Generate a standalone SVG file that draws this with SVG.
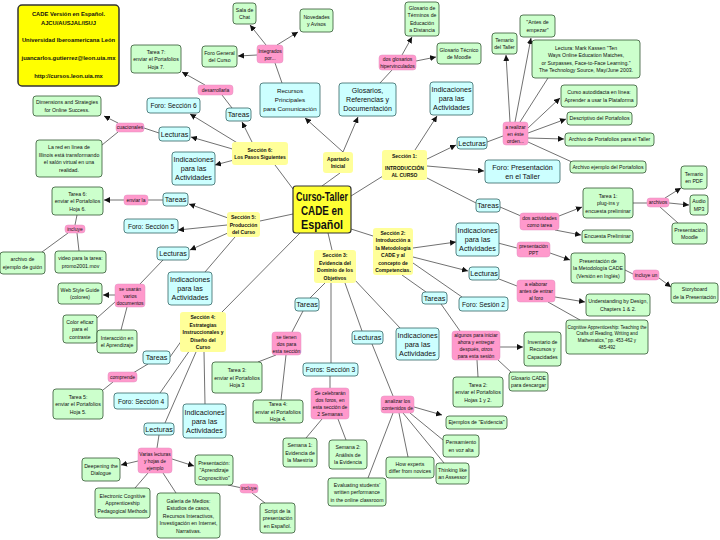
<svg xmlns="http://www.w3.org/2000/svg" width="720" height="540" viewBox="0 0 720 540">
<defs>
<marker id="ar" viewBox="0 0 10 10" refX="10" refY="5" markerWidth="6" markerHeight="6" orient="auto" markerUnits="userSpaceOnUse"><path d="M0,0 L10,5 L0,10 z" fill="#111"/></marker>
<style>
.g rect{fill:#ccffcc;stroke:#335533;stroke-width:.8}
.c rect{fill:#ccffff;stroke:#336666;stroke-width:.8}
.p rect{fill:#ff99cc;stroke:#e090c0;stroke-width:.5}
.y rect{fill:#ffff99;stroke:none}
text{font-family:"Liberation Sans",Arial,sans-serif;text-anchor:middle;fill:#111}
.g text{font-size:5.2px}
.g text.sm{font-size:4.6px}
.p text{font-size:5px}
.c text{font-size:7.2px}
.c text.f{font-size:6.6px}
.y text{font-size:5px;font-weight:bold}
#conn line{stroke:#333;stroke-width:.7;fill:none}
#conn .a{marker-end:url(#ar)}
</style>
</defs>
<rect width="720" height="540" fill="#fff"/>
<g id="conn">
<line x1="340" y1="173" x2="322" y2="186"/>
<line x1="351" y1="196" x2="383" y2="176"/>
<line x1="293" y1="189" x2="275" y2="165"/>
<line x1="293" y1="214" x2="260" y2="221"/>
<line x1="300" y1="233" x2="222" y2="312"/>
<line x1="328" y1="233" x2="332" y2="250"/>
<line x1="351" y1="229" x2="373" y2="236"/>
<line class="a" x1="343" y1="152" x2="305" y2="118"/>
<line class="a" x1="343" y1="152" x2="358" y2="117"/>
<line x1="282" y1="83" x2="275" y2="63"/>
<line class="a" x1="266" y1="45" x2="250" y2="25"/>
<line class="a" x1="277" y1="45" x2="298" y2="32"/>
<line class="a" x1="257" y1="55" x2="238" y2="56"/>
<line x1="380" y1="83" x2="392" y2="70"/>
<line class="a" x1="402" y1="55" x2="412" y2="37"/>
<line class="a" x1="416" y1="61" x2="436" y2="57"/>
<line class="a" x1="415" y1="150" x2="437" y2="116"/>
<line class="a" x1="425" y1="160" x2="456" y2="145"/>
<line class="a" x1="427" y1="166" x2="484" y2="171"/>
<line x1="427" y1="178" x2="476" y2="203"/>
<line x1="487" y1="142" x2="503" y2="136"/>
<line class="a" x1="510" y1="122" x2="506" y2="55"/>
<line class="a" x1="515" y1="122" x2="531" y2="38"/>
<line x1="520" y1="122" x2="548" y2="78"/>
<line class="a" x1="528" y1="128" x2="560" y2="98"/>
<line class="a" x1="528" y1="133" x2="566" y2="119"/>
<line class="a" x1="528" y1="138" x2="564" y2="139"/>
<line x1="528" y1="142" x2="572" y2="162"/>
<line x1="500" y1="207" x2="521" y2="216"/>
<line class="a" x1="559" y1="216" x2="582" y2="207"/>
<line class="a" x1="555" y1="230" x2="581" y2="235"/>
<line x1="633" y1="203" x2="647" y2="203"/>
<line class="a" x1="665" y1="198" x2="681" y2="188"/>
<line class="a" x1="669" y1="203" x2="689" y2="205"/>
<line x1="660" y1="207" x2="678" y2="223"/>
<line class="a" x1="413" y1="248" x2="456" y2="242"/>
<line class="a" x1="413" y1="257" x2="468" y2="271"/>
<line x1="413" y1="263" x2="462" y2="297"/>
<line x1="402" y1="275" x2="426" y2="292"/>
<line x1="498" y1="243" x2="517" y2="248"/>
<line class="a" x1="550" y1="253" x2="570" y2="260"/>
<line x1="625" y1="270" x2="633" y2="274"/>
<line class="a" x1="659" y1="278" x2="671" y2="287"/>
<line x1="499" y1="279" x2="517" y2="286"/>
<line class="a" x1="555" y1="297" x2="585" y2="302"/>
<line x1="548" y1="302" x2="580" y2="320"/>
<line x1="441" y1="304" x2="460" y2="331"/>
<line class="a" x1="500" y1="347" x2="523" y2="347"/>
<line x1="477" y1="360" x2="478" y2="377"/>
<line x1="498" y1="360" x2="512" y2="373"/>
<line x1="325" y1="283" x2="310" y2="298"/>
<line x1="303" y1="311" x2="292" y2="332"/>
<line x1="276" y1="355" x2="258" y2="362"/>
<line x1="286" y1="355" x2="281" y2="400"/>
<line x1="345" y1="283" x2="362" y2="331"/>
<line x1="372" y1="344" x2="393" y2="396"/>
<line class="a" x1="414" y1="407" x2="442" y2="415"/>
<line x1="410" y1="413" x2="443" y2="440"/>
<line x1="399" y1="413" x2="408" y2="457"/>
<line x1="403" y1="413" x2="444" y2="463"/>
<line x1="393" y1="413" x2="368" y2="478"/>
<line x1="331" y1="283" x2="331" y2="363"/>
<line x1="330" y1="376" x2="330" y2="388"/>
<line x1="322" y1="419" x2="306" y2="438"/>
<line x1="338" y1="419" x2="346" y2="440"/>
<line x1="353" y1="278" x2="400" y2="328"/>
<line x1="182" y1="340" x2="170" y2="357"/>
<line x1="148" y1="364" x2="133" y2="373"/>
<line x1="113" y1="382" x2="103" y2="390"/>
<line x1="190" y1="350" x2="160" y2="393"/>
<line x1="196" y1="352" x2="165" y2="423"/>
<line x1="204" y1="352" x2="205" y2="404"/>
<line x1="159" y1="435" x2="157" y2="448"/>
<line class="a" x1="138" y1="461" x2="121" y2="465"/>
<line x1="148" y1="473" x2="135" y2="488"/>
<line x1="163" y1="473" x2="176" y2="493"/>
<line class="a" x1="172" y1="459" x2="194" y2="466"/>
<line x1="228" y1="485" x2="242" y2="488"/>
<line x1="252" y1="493" x2="265" y2="503"/>
<line class="a" x1="228" y1="218" x2="189" y2="204"/>
<line class="a" x1="227" y1="225" x2="178" y2="230"/>
<line class="a" x1="230" y1="232" x2="190" y2="250"/>
<line x1="235" y1="237" x2="205" y2="272"/>
<line x1="163" y1="200" x2="148" y2="200"/>
<line class="a" x1="124" y1="200" x2="104" y2="200"/>
<line x1="77" y1="215" x2="75" y2="225"/>
<line x1="68" y1="233" x2="42" y2="252"/>
<line x1="77" y1="233" x2="79" y2="251"/>
<line x1="163" y1="260" x2="140" y2="284"/>
<line class="a" x1="115" y1="295" x2="103" y2="295"/>
<line x1="115" y1="302" x2="97" y2="318"/>
<line x1="127" y1="307" x2="121" y2="330"/>
<line class="a" x1="244" y1="147" x2="190" y2="114"/>
<line class="a" x1="252" y1="142" x2="242" y2="122"/>
<line class="a" x1="236" y1="150" x2="191" y2="137"/>
<line class="a" x1="234" y1="160" x2="215" y2="165"/>
<line x1="232" y1="108" x2="222" y2="95"/>
<line class="a" x1="205" y1="85" x2="182" y2="72"/>
<line x1="159" y1="133" x2="144" y2="128"/>
<line class="a" x1="118" y1="123" x2="104" y2="116"/>
<line x1="118" y1="132" x2="102" y2="145"/>
</g>

<g id="info"><rect x="18" y="5" width="101" height="81" rx="4" fill="#ffff00" stroke="#333" stroke-width="1.5"/>
<text style="font-size:5.8px;font-weight:bold"><tspan x="68.5" y="16">CADE Versión en Español.</tspan><tspan x="68.5" y="25">AJCU/AUSJAL/ISUJ</tspan><tspan x="68.5" y="42">Universidad Iberoamericana León</tspan><tspan x="68.5" y="60" textLength="94" lengthAdjust="spacingAndGlyphs">juancarlos.gutierrez@leon.uia.mx</tspan><tspan x="68.5" y="78">http://cursos.leon.uia.mx</tspan></text></g>

<g id="main"><rect x="293" y="186" width="58" height="47" rx="3" fill="#ffff33" stroke="#333" stroke-width="1.2"/>
<text style="font-size:12.5px;font-weight:bold"><tspan x="322" y="201" textLength="52" lengthAdjust="spacingAndGlyphs">Curso-Taller</tspan><tspan x="322" y="215" textLength="42" lengthAdjust="spacingAndGlyphs">CADE en</tspan><tspan x="322" y="229" textLength="42" lengthAdjust="spacingAndGlyphs">Español</tspan></text></g>

<g id="s6" class="y"><rect x="232" y="142" width="56" height="23" rx="3"/><text><tspan x="260" y="151.75">Sección 6:</tspan><tspan x="260" y="159.25">Los Pasos Siguientes</tspan></text></g>
<g id="ai" class="y"><rect x="323" y="152" width="30" height="21" rx="3"/><text><tspan x="338" y="160.75">Apartado</tspan><tspan x="338" y="168.25">Inicial</tspan></text></g>
<g id="s1" class="y"><rect x="382" y="150" width="45" height="30" rx="3"/><text><tspan x="404.5" y="158">Sección 1:</tspan><tspan x="404.5" y="170">INTRODUCCIÓN</tspan><tspan x="404.5" y="177">AL CURSO</tspan></text></g>
<g id="s5" class="y"><rect x="227" y="212" width="33" height="25" rx="3"/><text><tspan x="243.5" y="219">Sección 5:</tspan><tspan x="243.5" y="226.5">Producción</tspan><tspan x="243.5" y="234">del Curso</tspan></text></g>
<g id="s3" class="y"><rect x="314" y="250" width="42" height="33" rx="3"/><text><tspan x="335" y="257.25">Sección 3:</tspan><tspan x="335" y="264.75">Evidencia del</tspan><tspan x="335" y="272.25">Dominio de los</tspan><tspan x="335" y="279.75">Objetivos</tspan></text></g>
<g id="s2" class="y"><rect x="373" y="228" width="40" height="47" rx="3"/><text><tspan x="393" y="234.75">Sección 2:</tspan><tspan x="393" y="242.25">Introducción a</tspan><tspan x="393" y="249.75">la Metodología</tspan><tspan x="393" y="257.25">CADE y al</tspan><tspan x="393" y="264.75">concepto de</tspan><tspan x="393" y="272.25">Competencias.</tspan></text></g>
<g id="s4" class="y"><rect x="180" y="312" width="46" height="40" rx="3"/><text><tspan x="203" y="319">Sección 4:</tspan><tspan x="203" y="326.5">Estrategias</tspan><tspan x="203" y="334">Instruccionales y</tspan><tspan x="203" y="341.5">Diseño del</tspan><tspan x="203" y="349">Curso</tspan></text></g>

<g id="c-rec" class="c"><rect x="260" y="83" width="60" height="34" rx="3"/><text style="font-size:6.2px"><tspan x="290" y="93">Recursos</tspan><tspan x="290" y="102">Principales</tspan><tspan x="290" y="111">para Comunicación</tspan></text></g>
<g id="c-glos" class="c"><rect x="339" y="83" width="57" height="33" rx="3"/><text style="font-size:7px"><tspan x="367.5" y="93">Glosarios,</tspan><tspan x="367.5" y="102">Referencias y</tspan><tspan x="367.5" y="111">Documentación</tspan></text></g>
<g id="c-ind1" class="c"><rect x="430" y="82" width="43" height="33" rx="3"/><text><tspan x="451.5" y="92">Indicaciones</tspan><tspan x="451.5" y="101">para las</tspan><tspan x="451.5" y="110">Actividades</tspan></text></g>
<g id="c-lec1" class="c"><rect x="457" y="137" width="30" height="12" rx="3"/><text x="472" y="145.5">Lecturas</text></g>
<g id="c-foropres" class="c"><rect x="485" y="160" width="75" height="23" rx="3"/><text><tspan x="522.5" y="169.5">Foro: Presentación</tspan><tspan x="522.5" y="178.5">en el Taller</tspan></text></g>
<g id="c-tar1" class="c"><rect x="476" y="199" width="24" height="13" rx="3"/><text x="488" y="208">Tareas</text></g>
<g id="c-ind2" class="c"><rect x="456" y="223" width="43" height="33" rx="3"/><text><tspan x="477.5" y="233">Indicaciones</tspan><tspan x="477.5" y="242">para las</tspan><tspan x="477.5" y="251">Actividades</tspan></text></g>
<g id="c-lec2" class="c"><rect x="469" y="267" width="30" height="13" rx="3"/><text x="484" y="276">Lecturas</text></g>
<g id="c-tar2" class="c"><rect x="422" y="292" width="25" height="12" rx="3"/><text x="434.5" y="300.5">Tareas</text></g>
<g id="c-foro2" class="c"><rect x="459" y="297" width="49" height="14" rx="3"/><text class="f" x="483.5" y="306.5">Foro: Sesión 2</text></g>
<g id="c-ind3" class="c"><rect x="396" y="328" width="43" height="32" rx="3"/><text><tspan x="417.5" y="337.5">Indicaciones</tspan><tspan x="417.5" y="346.5">para las</tspan><tspan x="417.5" y="355.5">Actividades</tspan></text></g>
<g id="c-lec3" class="c"><rect x="352" y="331" width="31" height="13" rx="3"/><text x="367.5" y="340">Lecturas</text></g>
<g id="c-tar3" class="c"><rect x="295" y="298" width="24" height="13" rx="3"/><text x="307" y="307">Tareas</text></g>
<g id="c-foros3" class="c"><rect x="303" y="363" width="55" height="13" rx="3"/><text class="f" x="330.5" y="372">Foros: Sección 3</text></g>
<g id="c-ind4" class="c"><rect x="183" y="404" width="43" height="34" rx="3"/><text><tspan x="204.5" y="414.5">Indicaciones</tspan><tspan x="204.5" y="423.5">para las</tspan><tspan x="204.5" y="432.5">Actividades</tspan></text></g>
<g id="c-lec4" class="c"><rect x="144" y="423" width="30" height="12" rx="3"/><text x="159" y="431.5">Lecturas</text></g>
<g id="c-foro4" class="c"><rect x="114" y="393" width="54" height="16" rx="3"/><text class="f" x="141" y="403.5">Foro: Sección 4</text></g>
<g id="c-tar4" class="c"><rect x="143" y="351" width="27" height="13" rx="3"/><text x="156.5" y="360">Tareas</text></g>
<g id="c-ind5" class="c"><rect x="168" y="272" width="44" height="33" rx="3"/><text><tspan x="190" y="282">Indicaciones</tspan><tspan x="190" y="291">para las</tspan><tspan x="190" y="300">Actividades</tspan></text></g>
<g id="c-lec5" class="c"><rect x="157" y="247" width="32" height="13" rx="3"/><text x="173" y="256">Lecturas</text></g>
<g id="c-foro5" class="c"><rect x="124" y="219" width="54" height="14" rx="3"/><text class="f" x="151" y="228.5">Foro: Sección 5</text></g>
<g id="c-tar5" class="c"><rect x="163" y="193" width="25" height="13" rx="3"/><text x="175.5" y="202">Tareas</text></g>
<g id="c-ind6" class="c"><rect x="172" y="152" width="43" height="33" rx="3"/><text><tspan x="193.5" y="162">Indicaciones</tspan><tspan x="193.5" y="171">para las</tspan><tspan x="193.5" y="180">Actividades</tspan></text></g>
<g id="c-lec6" class="c"><rect x="159" y="127" width="31" height="14" rx="3"/><text x="174.5" y="136.5">Lecturas</text></g>
<g id="c-foro6" class="c"><rect x="147" y="98" width="53" height="15" rx="3"/><text class="f" x="173.5" y="108">Foro: Sección 6</text></g>
<g id="c-tar6" class="c"><rect x="226" y="108" width="25" height="13" rx="3"/><text x="238.5" y="117">Tareas</text></g>

<g id="p-integ" class="p"><rect x="257" y="45" width="26" height="18" rx="3"/><text><tspan x="270" y="52.5">Integrados</tspan><tspan x="270" y="59.5">por...</tspan></text></g>
<g id="p-desa" class="p"><rect x="198" y="85" width="35" height="10" rx="3"/><text x="215.5" y="91.8">desarrollarla</text></g>
<g id="p-cuac" class="p"><rect x="116" y="123" width="28" height="9" rx="3"/><text x="130" y="129.3">cuacionales</text></g>
<g id="p-dosglos" class="p"><rect x="379" y="55" width="37" height="15" rx="3"/><text><tspan x="397.5" y="61">dos glosarios</tspan><tspan x="397.5" y="68">hipervinculados</tspan></text></g>
<g id="p-realizar" class="p"><rect x="503" y="122" width="25" height="23" rx="3"/><text><tspan x="515.5" y="128.5">a realizar</tspan><tspan x="515.5" y="135.5">en éste</tspan><tspan x="515.5" y="142.5">orden...</tspan></text></g>
<g id="p-dosact" class="p"><rect x="520" y="213" width="39" height="17" rx="3"/><text><tspan x="539.5" y="220">dos actividades</tspan><tspan x="539.5" y="227">como tarea</tspan></text></g>
<g id="p-archivos" class="p"><rect x="647" y="198" width="22" height="9" rx="3"/><text x="658" y="204.3">archivos</text></g>
<g id="p-ppt" class="p"><rect x="517" y="242" width="33" height="15" rx="3"/><text><tspan x="533.5" y="248">presentación</tspan><tspan x="533.5" y="255">PPT</tspan></text></g>
<g id="p-inclun" class="p"><rect x="633" y="270" width="26" height="10" rx="3"/><text x="646" y="276.8">incluye un</text></g>
<g id="p-elab" class="p"><rect x="517" y="280" width="38" height="22" rx="3"/><text><tspan x="536" y="286">a elaborar</tspan><tspan x="536" y="293">antes de entrar</tspan><tspan x="536" y="300">al foro</tspan></text></g>
<g id="p-algunos" class="p"><rect x="452" y="331" width="48" height="29" rx="3"/><text><tspan x="476" y="337">algunos para iniciar</tspan><tspan x="476" y="344">ahora y entregar</tspan><tspan x="476" y="351">después, otros</tspan><tspan x="476" y="358">para esta sesión</tspan></text></g>
<g id="p-setienen" class="p"><rect x="272" y="332" width="29" height="23" rx="3"/><text><tspan x="286.5" y="338.5">se tienen</tspan><tspan x="286.5" y="345.5">dos para</tspan><tspan x="286.5" y="352.5">esta sección</tspan></text></g>
<g id="p-analizar" class="p"><rect x="381" y="396" width="33" height="17" rx="3"/><text><tspan x="397.5" y="403">analizar los</tspan><tspan x="397.5" y="410">contenidos de</tspan></text></g>
<g id="p-celeb" class="p"><rect x="311" y="388" width="38" height="31" rx="3"/><text><tspan x="330" y="395">Se celebrarán</tspan><tspan x="330" y="402">dos foros, en</tspan><tspan x="330" y="409">esta sección de</tspan><tspan x="330" y="416">2 Semanas</tspan></text></g>
<g id="p-incl2" class="p"><rect x="240" y="484" width="18" height="9" rx="3"/><text x="249" y="490.3">incluye</text></g>
<g id="p-varias" class="p"><rect x="138" y="448" width="34" height="25" rx="3"/><text style="font-size:4.8px"><tspan x="155" y="455.5">Varias lecturas</tspan><tspan x="155" y="462.5">y hojas de</tspan><tspan x="155" y="469.5">ejemplo</tspan></text></g>
<g id="p-compr" class="p"><rect x="108" y="372" width="29" height="10" rx="3"/><text x="122.5" y="378.8">comprende</text></g>
<g id="p-usaran" class="p"><rect x="115" y="284" width="30" height="23" rx="3"/><text><tspan x="130" y="290.5">se usarán</tspan><tspan x="130" y="297.5">varios</tspan><tspan x="130" y="304.5">documentos</tspan></text></g>
<g id="p-incl1" class="p"><rect x="65" y="225" width="20" height="8" rx="3"/><text x="75" y="230.8">incluye</text></g>
<g id="p-enviar" class="p"><rect x="124" y="195" width="24" height="10" rx="3"/><text x="136" y="201.8">enviar la</text></g>

<g id="g-chat" class="g"><rect x="233" y="3" width="23" height="21" rx="3"/><text><tspan x="244.5" y="11.75">Sala de</tspan><tspan x="244.5" y="19.25">Chat</tspan></text></g>
<g id="g-nov" class="g"><rect x="300" y="9" width="33" height="23" rx="3"/><text><tspan x="316.5" y="18.75">Novedades</tspan><tspan x="316.5" y="26.25">y Avisos</tspan></text></g>
<g id="g-forogen" class="g"><rect x="202" y="46" width="35" height="21" rx="3"/><text><tspan x="219.5" y="54.75">Foro General</tspan><tspan x="219.5" y="62.25">del Curso</tspan></text></g>
<g id="g-t7" class="g"><rect x="131" y="45" width="50" height="28" rx="3"/><text><tspan x="156" y="53.5">Tarea 7:</tspan><tspan x="156" y="61">enviar el Portafolios</tspan><tspan x="156" y="68.5">Hoja 7.</tspan></text></g>
<g id="g-dim" class="g"><rect x="33" y="96" width="68" height="20" rx="3"/><text><tspan x="67" y="104.25">Dimensions and Strategies</tspan><tspan x="67" y="111.75">for Online Success.</tspan></text></g>
<g id="g-red" class="g"><rect x="36" y="140" width="66" height="37" rx="3"/><text><tspan x="69" y="149.25">La red en línea de</tspan><tspan x="69" y="156.75">Illinois está transformando</tspan><tspan x="69" y="164.25">el salón virtual en una</tspan><tspan x="69" y="171.75">realidad.</tspan></text></g>
<g id="g-glosterm" class="g"><rect x="405" y="2" width="34" height="34" rx="3"/><text><tspan x="422" y="9.75">Glosario de</tspan><tspan x="422" y="17.25">Términos de</tspan><tspan x="422" y="24.75">Educación</tspan><tspan x="422" y="32.25">a Distancia</tspan></text></g>
<g id="g-glosmoodle" class="g"><rect x="437" y="43" width="44" height="21" rx="3"/><text><tspan x="459" y="51.75">Glosario Técnico</tspan><tspan x="459" y="59.25">de Moodle</tspan></text></g>
<g id="g-temario" class="g"><rect x="492" y="33" width="25" height="21" rx="3"/><text><tspan x="504.5" y="41.75">Temario</tspan><tspan x="504.5" y="49.25">del Taller</tspan></text></g>
<g id="g-antes" class="g"><rect x="520" y="15" width="35" height="22" rx="3"/><text><tspan x="537.5" y="24.25">"Antes de</tspan><tspan x="537.5" y="31.75">empezar"</tspan></text></g>
<g id="g-kassen" class="g"><rect x="532" y="40" width="108" height="38" rx="3"/><text><tspan x="586" y="49.75">Lectura: Mark Kassen "Ten</tspan><tspan x="586" y="57.25">Ways Online Education Matches,</tspan><tspan x="586" y="64.75">or Surpasses, Face-to-Face Learning."</tspan><tspan x="586" y="72.25">The Technology Source, May/June 2003.</tspan></text></g>
<g id="g-curso" class="g"><rect x="561" y="85" width="76" height="22" rx="3"/><text><tspan x="599" y="94.25">Curso autodidacta en línea:</tspan><tspan x="599" y="101.75">Aprender a usar la Plataforma</tspan></text></g>
<g id="g-desc" class="g"><rect x="567" y="112" width="65" height="13" rx="3"/><text x="599.5" y="120.3">Descriptivo del Portafolios</text></g>
<g id="g-arch" class="g"><rect x="565" y="133" width="89" height="13" rx="3"/><text x="609.5" y="141.3">Archivo de Portafolios para el Taller</text></g>
<g id="g-archej" class="g"><rect x="570" y="161" width="76" height="12" rx="3"/><text x="608" y="168.8">Archivo ejemplo del Portafolios</text></g>
<g id="g-pdf" class="g"><rect x="681" y="166" width="26" height="23" rx="3"/><text><tspan x="694" y="175.75">Temario</tspan><tspan x="694" y="183.25">en PDF</tspan></text></g>
<g id="g-t1" class="g"><rect x="583" y="188" width="50" height="30" rx="3"/><text><tspan x="608" y="197.5">Tarea 1:</tspan><tspan x="608" y="205">plug-ins y</tspan><tspan x="608" y="212.5">encuesta preliminar</tspan></text></g>
<g id="g-mp3" class="g"><rect x="690" y="195" width="18" height="20" rx="3"/><text><tspan x="699" y="203.25">Audio</tspan><tspan x="699" y="210.75">MP3</tspan></text></g>
<g id="g-pmoodle" class="g"><rect x="672" y="223" width="35" height="21" rx="3"/><text><tspan x="689.5" y="231.75">Presentación</tspan><tspan x="689.5" y="239.25">Moodle</tspan></text></g>
<g id="g-encuesta" class="g"><rect x="582" y="230" width="51" height="13" rx="3"/><text x="607.5" y="238.3">Encuesta Preliminar</text></g>
<g id="g-presmet" class="g"><rect x="571" y="253" width="54" height="30" rx="3"/><text><tspan x="598" y="262.5">Presentación de</tspan><tspan x="598" y="270">la Metodología CADE</tspan><tspan x="598" y="277.5">(Versión en Inglés)</tspan></text></g>
<g id="g-story" class="g"><rect x="671" y="283" width="47" height="20" rx="3"/><text><tspan x="694.5" y="291.25">Storyboard</tspan><tspan x="694.5" y="298.75">de la Presentación</tspan></text></g>
<g id="g-ubd" class="g"><rect x="586" y="294" width="64" height="22" rx="3"/><text><tspan x="618" y="303.25">Understanding by Design,</tspan><tspan x="618" y="310.75">Chapters 1 &amp; 2.</tspan></text></g>
<g id="g-cog" class="g"><rect x="566" y="320" width="82" height="34" rx="3"/><text class="sm"><tspan x="607" y="328.75">Cognitive Apprenticeship: Teaching the</tspan><tspan x="607" y="335.45">Crafts of Reading, Writing and</tspan><tspan x="607" y="342.15">Mathematics," pp. 453-462 y</tspan><tspan x="607" y="348.85">485-492</tspan></text></g>
<g id="g-inv" class="g"><rect x="524" y="332" width="37" height="34" rx="3"/><text><tspan x="542.5" y="343.5">Inventario de</tspan><tspan x="542.5" y="351">Recursos y</tspan><tspan x="542.5" y="358.5">Capacidades</tspan></text></g>
<g id="g-gloscade" class="g"><rect x="509" y="372" width="39" height="19" rx="3"/><text><tspan x="528.5" y="379.75">Glosario CADE</tspan><tspan x="528.5" y="387.25">para descargar</tspan></text></g>
<g id="g-t2" class="g"><rect x="453" y="377" width="50" height="30" rx="3"/><text><tspan x="478" y="386.5">Tarea 2:</tspan><tspan x="478" y="394">enviar el Portafolios</tspan><tspan x="478" y="401.5">Hojas 1 y 2.</tspan></text></g>
<g id="g-ej" class="g"><rect x="446" y="416" width="61" height="13" rx="3"/><text x="476.5" y="424.3">Ejemplos de "Evidencia"</text></g>
<g id="g-pens" class="g"><rect x="443" y="435" width="36" height="22" rx="3"/><text><tspan x="461" y="444.25">Pensamiento</tspan><tspan x="461" y="451.75">en voz alta</tspan></text></g>
<g id="g-how" class="g"><rect x="386" y="457" width="48" height="21" rx="3"/><text><tspan x="410" y="465.75">How experts</tspan><tspan x="410" y="473.25">differ from novices</tspan></text></g>
<g id="g-think" class="g"><rect x="436" y="463" width="33" height="21" rx="3"/><text><tspan x="452.5" y="471.75">Thinking like</tspan><tspan x="452.5" y="479.25">an Assessor</tspan></text></g>
<g id="g-eval" class="g"><rect x="328" y="478" width="58" height="28" rx="3"/><text><tspan x="357" y="486.5">Evaluating students'</tspan><tspan x="357" y="494">written performance</tspan><tspan x="357" y="501.5">in the online classroom</tspan></text></g>
<g id="g-sem1" class="g"><rect x="283" y="438" width="34" height="29" rx="3"/><text><tspan x="300" y="447">Semana 1:</tspan><tspan x="300" y="454.5">Evidencia de</tspan><tspan x="300" y="462">la Maestría</tspan></text></g>
<g id="g-sem2" class="g"><rect x="329" y="440" width="38" height="29" rx="3"/><text><tspan x="348" y="449">Semana 2:</tspan><tspan x="348" y="456.5">Análisis de</tspan><tspan x="348" y="464">la Evidencia</tspan></text></g>
<g id="g-t4" class="g"><rect x="253" y="400" width="50" height="23" rx="3"/><text><tspan x="278" y="406">Tarea 4:</tspan><tspan x="278" y="413.5">enviar el Portafolios</tspan><tspan x="278" y="421">Hoja 4.</tspan></text></g>
<g id="g-t3" class="g"><rect x="212" y="362" width="50" height="31" rx="3"/><text><tspan x="237" y="372">Tarea 3:</tspan><tspan x="237" y="379.5">enviar el Portafolios</tspan><tspan x="237" y="387">Hoja 3</tspan></text></g>
<g id="g-presc" class="g"><rect x="195" y="455" width="38" height="30" rx="3"/><text><tspan x="214" y="464.5">Presentación:</tspan><tspan x="214" y="472">"Aprendizaje</tspan><tspan x="214" y="479.5">Cognoscitivo"</tspan></text></g>
<g id="g-script" class="g"><rect x="260" y="503" width="35" height="30" rx="3"/><text><tspan x="277.5" y="512.5">Script de la</tspan><tspan x="277.5" y="520">presentación</tspan><tspan x="277.5" y="527.5">en Español.</tspan></text></g>
<g id="g-gal" class="g"><rect x="157" y="493" width="63" height="45" rx="3"/><text><tspan x="188.5" y="502.5">Galería de Medios:</tspan><tspan x="188.5" y="510">Estudios de casos,</tspan><tspan x="188.5" y="517.5">Recursos Interactivos,</tspan><tspan x="188.5" y="525">Investigación en Internet,</tspan><tspan x="188.5" y="532.5">Narrativas.</tspan></text></g>
<g id="g-elec" class="g"><rect x="95" y="488" width="55" height="30" rx="3"/><text><tspan x="122.5" y="497.5">Electronic Cognitive</tspan><tspan x="122.5" y="505">Apprenticeship</tspan><tspan x="122.5" y="512.5">Pedagogical Methods</tspan></text></g>
<g id="g-deep" class="g"><rect x="82" y="458" width="38" height="23" rx="3"/><text><tspan x="101" y="467.75">Deepening the</tspan><tspan x="101" y="475.25">Dialogue</tspan></text></g>
<g id="g-t5" class="g"><rect x="53" y="389" width="50" height="30" rx="3"/><text><tspan x="78" y="398.5">Tarea 5:</tspan><tspan x="78" y="406">enviar el Portafolios</tspan><tspan x="78" y="413.5">Hoja 5.</tspan></text></g>
<g id="g-color" class="g"><rect x="63" y="315" width="34" height="28" rx="3"/><text><tspan x="80" y="323.5">Color eficaz</tspan><tspan x="80" y="331">para el</tspan><tspan x="80" y="338.5">contraste</tspan></text></g>
<g id="g-inter" class="g"><rect x="97" y="330" width="40" height="23" rx="3"/><text><tspan x="117" y="339.75">Interacción en</tspan><tspan x="117" y="347.25">el Aprendizaje</tspan></text></g>
<g id="g-web" class="g"><rect x="58" y="283" width="44" height="21" rx="3"/><text><tspan x="80" y="291.75">Web Style Guide</tspan><tspan x="80" y="299.25">(colores)</tspan></text></g>
<g id="g-archg" class="g"><rect x="0" y="252" width="45" height="22" rx="3"/><text><tspan x="22.5" y="261.25">archivo de</tspan><tspan x="22.5" y="268.75">ejemplo de guión</tspan></text></g>
<g id="g-video" class="g"><rect x="55" y="251" width="51" height="22" rx="3"/><text><tspan x="80.5" y="260.25">video para la tarea:</tspan><tspan x="80.5" y="267.75">promo2001.mov</tspan></text></g>
<g id="g-t6" class="g"><rect x="52" y="187" width="51" height="28" rx="3"/><text><tspan x="77.5" y="195.5">Tarea 6:</tspan><tspan x="77.5" y="203">enviar el Portafolios</tspan><tspan x="77.5" y="210.5">Hoja 6.</tspan></text></g>
</svg>
